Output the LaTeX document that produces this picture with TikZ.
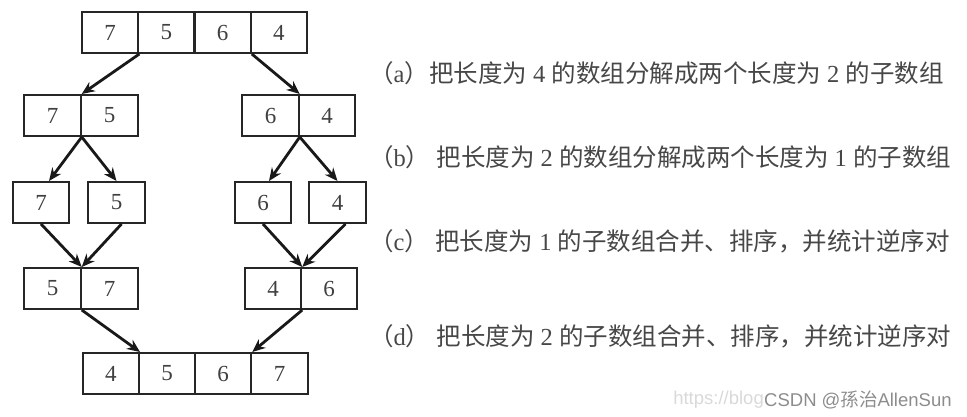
\documentclass[tikz,border=0pt]{standalone}
\usepackage{fontspec}
\setmainfont{Liberation Serif}
\newfontfamily\cjk{Noto Sans CJK SC}
\newfontfamily\wmfont{Liberation Sans}
\usetikzlibrary{arrows.meta}
\newcommand{\zh}[1]{{\cjk #1}}
\begin{document}
\begin{tikzpicture}[x=1pt,y=-1pt,
  cell/.style={draw=black!85, line width=2pt, minimum width=56.5pt, minimum height=41pt,
    inner sep=0pt, font=\fontsize{23}{23}\selectfont, text=black!75},
  arr/.style={draw=black!90, line width=2.8pt, -{Stealth[length=13pt,width=11pt]}},
  lbl/.style={anchor=west, inner sep=0pt, font=\fontsize{24.5}{26}\selectfont, text=black!72},
  wm/.style={inner sep=0pt, font=\wmfont\fontsize{18.5}{18.5}\selectfont}]
\useasboundingbox (0,0) rectangle (967,417);
% top array
\node[cell] (t1) at (110.1,32.5) {7};
\node[cell] (t2) at (166.4,32.5) {5};
\node[cell] (t3) at (222.6,32.5) {6};
\node[cell] (t4) at (278.9,32.5) {4};
% level 2
\node[cell] (l2a) at (52.5,115.5) {7};
\node[cell] (l2b) at (109.5,115.5) {5};
\node[cell] (r2a) at (270.5,115.5) {6};
\node[cell] (r2b) at (327,115.5) {4};
% level 3
\node[cell] (L7) at (41,202.5) {7};
\node[cell] (L5) at (116.5,202.5) {5};
\node[cell] (R6) at (263,202.5) {6};
\node[cell] (R4) at (337.5,202.5) {4};
% level 4
\node[cell] (l4a) at (52.5,288.5) {5};
\node[cell] (l4b) at (109.5,288.5) {7};
\node[cell] (r4a) at (273,288.5) {4};
\node[cell] (r4b) at (329,288.5) {6};
% level 5
\node[cell] (l5a) at (110.8,373.5) {4};
\node[cell] (l5b) at (167,373.5) {5};
\node[cell] (l5c) at (223,373.5) {6};
\node[cell] (l5d) at (279.5,373.5) {7};
% arrows
\draw[arr] (t1.south east) -- (l2a.north east);
\draw[arr] (t3.south east) -- (r2a.north east);
\draw[arr] (l2a.south east) -- ([xshift=8pt]L7.north);
\draw[arr] (l2a.south east) -- (L5.north);
\draw[arr] (r2a.south east) -- ([xshift=6pt]R6.north);
\draw[arr] (r2a.south east) -- (R4.north);
\draw[arr] (L7.south) -- (l4a.north east);
\draw[arr] ([xshift=5pt]L5.south) -- (l4a.north east);
\draw[arr] (R6.south) -- (r4a.north east);
\draw[arr] ([xshift=8pt]R4.south) -- (r4a.north east);
\draw[arr] (l4a.south east) -- (l5a.north east);
\draw[arr] (r4a.south east) -- (l5c.north east);
% labels
\node[lbl] (la) at (369,73) {\zh{（}a\zh{）把长度为} 4 \zh{的数组分解成两个长度为} 2 \zh{的子数组}};
\node[lbl] (lb) at (369,157) {\zh{（}b\zh{）} \zh{把长度为} 2 \zh{的数组分解成两个长度为} 1 \zh{的子数组}};
\node[lbl] (lc) at (369,241) {\zh{（}c\zh{）} \zh{把长度为} 1 \zh{的子数组合并、排序，并统计逆序对}};
\node[lbl] (ld) at (369,336) {\zh{（}d\zh{）} \zh{把长度为} 2 \zh{的子数组合并、排序，并统计逆序对}};
% watermark
\node[wm, anchor=east, text=black!15] (w1) at (764,400) {https://blog};
\node[wm, anchor=west, text=black!45] (w2) at (764,400) {CSDN @{\cjk 孫治}AllenSun};
\end{tikzpicture}
\end{document}
